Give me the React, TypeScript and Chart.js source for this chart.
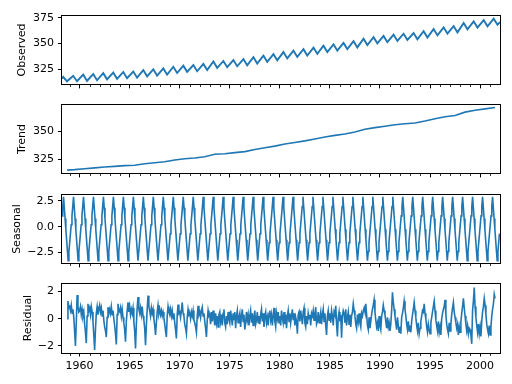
import React, { useEffect, useRef } from "react";
import { Chart, registerables } from "chart.js";

Chart.register(...registerables);

// ---------- data ----------
const X_MIN = 1958.24;
const X_MAX = 2001.99;
const xMajorTicks = [1960, 1965, 1970, 1975, 1980, 1985, 1990, 1995, 2000];
const firstYear = 1958;

// Observed: yearly May peak and Sep/Oct trough values
const observedStart = 316.1;
const observedEnd = 370.8;
const observedPeaks = [
  317.9, 318.9, 320.0, 320.6, 321.4, 322.0, 322.6, 323.0, 324.4, 325.2,
  326.0, 327.6, 328.7, 329.3, 330.4, 332.7, 333.2, 334.1, 335.0, 336.8,
  338.4, 339.8, 341.8, 343.1, 344.5, 346.1, 347.9, 349.3, 350.6, 352.3,
  354.7, 356.2, 357.4, 358.7, 359.5, 360.2, 362.0, 364.0, 365.7, 366.9,
  369.8, 371.5, 372.7, 374.0,
];
const observedTroughs = [
  313.6, 313.7, 314.0, 314.6, 315.5, 316.0, 316.6, 317.1, 318.4, 319.1,
  320.0, 321.6, 322.7, 323.3, 324.4, 326.6, 327.2, 328.1, 329.0, 330.8,
  332.4, 333.8, 335.7, 337.1, 338.4, 340.1, 341.8, 343.3, 344.6, 346.3,
  348.6, 350.2, 351.4, 352.6, 353.5, 354.2, 355.9, 357.9, 359.7, 360.8,
  363.8, 365.5, 366.7, 368.2,
];

// Trend: value at each point in time
const trendX = [
  1958.75, 1959.5, 1960.5, 1961.5, 1962.5, 1963.5, 1964.5, 1965.5, 1966.5, 1967.5,
  1968.5, 1969.5, 1970.5, 1971.5, 1972.5, 1973.5, 1974.5, 1975.5, 1976.5, 1977.5,
  1978.5, 1979.5, 1980.5, 1981.5, 1982.5, 1983.5, 1984.5, 1985.5, 1986.5, 1987.5,
  1988.5, 1989.5, 1990.5, 1991.5, 1992.5, 1993.5, 1994.5, 1995.5, 1996.5, 1997.5,
  1998.5, 1999.5, 2000.5, 2001.5,
];
const trendValues = [
  315.7, 316.1, 316.91, 317.64, 318.45, 318.99, 319.62, 320.04, 321.37, 322.18,
  323.05, 324.62, 325.68, 326.32, 327.46, 329.68, 330.19, 331.12, 332.03, 333.84,
  335.41, 336.84, 338.76, 340.12, 341.48, 343.15, 344.87, 346.35, 347.61, 349.31,
  351.69, 353.2, 354.45, 355.7, 356.54, 357.21, 358.96, 360.97, 362.74, 363.88,
  366.84, 368.54, 369.71, 370.9,
];

// Seasonal: one 52-week period, sampled every 4 weeks (repeats every period)
const seasonalPeriodWeeks = 52;
const seasonalStepWeeks = 4;
const seasonalPattern = [1.05, 1.95, 2.9, 1.85, 0.8, -0.25, -1.26, -2.28, -3.3, -2.42, -1.55, -0.68, 0.19];
const seasonalWeeks = 2284;

// Residual: monthly values from Oct 1958 to Jul 2001
const residualStart = 1958.75;
const residual1958to1972 = [
  0.0, 1.3, 0.8,
  0.9, 0.6, 1.0, 0.4, 0.7, 0.1, -0.9, -2.0, -0.3, 1.75, 0.9, 0.5,
  0.6, 0.9, 0.3, 0.7, 0.2, 0.5, -0.4, -1.0, -1.8, 0.2, 1.1, 0.6,
  0.8, 0.3, 0.9, 0.5, -0.2, -1.2, -2.3, -0.8, 0.4, 0.9, 0.3, 0.7,
  1.0, 0.5, 0.8, 0.2, 0.6, -0.1, -0.6, -0.9, -1.35, 0.1, 0.85, 0.4,
  0.7, 0.4, 0.9, 0.3, 0.6, 0.0, -0.5, -1.1, -1.9, 0.3, 1.1, 0.6,
  0.5, 0.8, 0.2, 0.7, 0.1, -0.3, -0.8, -1.7, -0.2, 0.6, 1.2, 0.5,
  0.9, 0.3, 0.7, 0.4, 0.8, -0.2, -0.9, -2.2, -0.4, 0.8, 1.6, 0.7,
  0.4, 0.8, 0.3, 0.9, 0.2, -0.1, -0.7, -1.95, -0.5, 0.7, 1.7, 0.9,
  0.6, 0.2, 0.8, 0.4, 0.7, 0.0, -0.5, -1.2, -0.3, 0.5, 1.0, 0.4,
  0.7, 0.3, 0.6, 0.2, 0.5, 0.1, -0.4, -0.9, -1.35, 0.2, 0.9, 0.5,
  0.3, 0.7, 0.2, 0.6, 0.0, 0.4, -0.3, -0.8, -1.45, 0.3, 1.05, 0.4,
  0.5, 0.1, 0.6, 1.2, 0.4, 0.2, -0.4, -0.7, -1.1, 0.1, 0.7, 0.3,
  0.4, 0.0, 0.5, 0.2, 0.6, -0.1, -0.3, -0.6, -1.0, 0.2, 0.95, 0.3,
  0.5, 0.1, 0.6, 0.85, 0.2, 0.4, -0.2, -0.7, -1.35, -0.1, 0.6, 0.2,
];
const residual1973to1987 = [
  0.3, -0.4, 0.5, -0.2, 0.6, 0.1, -0.5, 0.4, -0.3, 0.2, -0.6, 0.3,
  0.5, -0.2, 0.3, -0.5, 0.4, 0.7, -0.3, -0.6, 0.2, -0.4, 0.5, 0.0,
  -0.3, 0.6, 0.1, -0.5, 0.4, -0.1, 0.5, -0.7, 0.2, 0.6, -0.3, 0.1,
  0.4, -0.6, 0.2, 0.7, -0.2, 0.3, -0.8, -0.3, 0.5, -0.1, 0.3, -0.5,
  0.2, 0.6, -0.3, 0.4, -0.5, 0.1, 0.6, -0.4, -0.1, 0.5, -0.3, 0.2,
  -0.4, 0.3, 0.7, -0.2, 0.4, -0.6, 0.2, 0.5, -0.3, 0.1, -0.5, 0.4,
  0.6, -0.1, 0.3, -0.5, 0.2, 0.8, -0.2, -0.6, 0.4, 0.0, 0.5, -0.3,
  0.2, -0.5, 0.6, 0.1, -0.3, 0.5, -0.4, 0.3, -0.7, 0.2, 0.6, -0.2,
  0.4, -0.3, 0.2, 0.7, -0.1, 0.4, -0.5, 0.1, -0.2, -1.1, 0.3, 0.5,
  -0.2, 0.6, 0.1, -0.4, 0.5, 0.8, -0.3, -0.6, 0.2, -0.4, 0.4, 0.0,
  0.3, -0.5, 0.4, 0.2, 0.6, -0.1, 0.3, 0.85, -0.4, -0.2, 0.5, -0.3,
  0.1, 0.5, -0.4, 0.3, 0.7, -0.2, 0.4, -0.5, -1.2, 0.2, 0.6, -0.1,
  0.4, -0.3, 0.6, 0.2, -0.5, 0.5, 0.3, 0.95, -0.4, -1.3, 0.1, 0.5,
  -0.2, 0.3, -1.4, 0.2, 0.6, 0.4, -0.3, 0.7, -0.5, 0.1, 0.5, -0.4,
  0.3, -0.6, 0.2, 0.5, 1.1, 0.6, 0.2, -0.4, -0.7, 0.3, -0.2, 0.4,
];
const residual1988to2001 = [
  -0.3, -0.6, 0.4, 0.2, 0.6, 0.8, 0.5, 1.1, 0.3, -0.5, -0.8, 0.1,
  -0.7, -0.2, 0.3, 0.7, 1.0, 1.4, 0.5, -0.1, -0.6, -0.3, -0.9, 0.2,
  -0.5, -0.8, 0.2, 0.5, 1.0, 0.6, 0.3, -0.2, -0.7, 0.1, -0.6, -0.3,
  -0.9, -0.4, 0.6, 1.95, 1.2, 0.7, 0.2, -0.3, -0.8, 0.1, -0.5, -1.0,
  -0.6, -1.1, 0.1, 0.4, 0.8, 1.3, 0.7, 0.2, -0.4, -0.8, -0.2, -0.9,
  -0.5, -1.0, -0.2, 0.3, 0.7, 1.2, 0.6, 0.1, -0.5, -0.9, -0.3, -1.1,
  -0.7, -0.2, 0.2, 0.6, 0.5, 1.1, 0.4, 0.0, -0.6, -1.0, -0.4, -0.8,
  -1.1, -0.3, 0.1, 0.5, 0.9, 1.3, 0.6, -0.1, -0.5, -0.9, -0.2, -1.0,
  -0.6, -1.2, 0.0, 0.4, 0.7, 0.9, 1.4, 0.3, -0.4, -0.8, -1.1, -0.3,
  -0.9, -0.4, 0.3, 0.8, 1.2, 0.5, 0.1, -0.3, -0.7, -0.4, -1.2, -0.6,
  -1.0, -0.2, 0.4, 0.9, 1.5, 0.8, 0.2, -0.4, -0.9, -0.5, -1.1, -0.7,
  -0.8, -1.2, -1.85, 0.6, 1.3, 2.3, 0.9, 0.1, -0.5, -1.0, -0.4, -1.1,
  -0.6, -1.3, -0.2, 0.5, 0.9, 1.5, 1.0, 0.3, -0.4, -0.8, -1.1, -0.5,
  -1.2, -0.6, 0.2, 0.7, 1.1, 1.8, 1.5,
];

// Axis tick values
const observedTicks = [325, 350, 375];
const trendTicks = [325, 350];
const seasonalTicks = [-2.5, 0, 2.5];
const residualTicks = [-2, 0, 2];

// ---------- build point lists ----------
type Pt = { x: number; y: number };

function observedPoints(): Pt[] {
  const pts: Pt[] = [{ x: X_MIN, y: observedStart }];
  observedPeaks.forEach((p, i) => {
    const yr = firstYear + i;
    pts.push({ x: yr + 0.36, y: p });
    pts.push({ x: yr + 0.74, y: observedTroughs[i] });
  });
  pts.push({ x: X_MAX, y: observedEnd });
  return pts;
}
function trendPoints(): Pt[] {
  return trendValues.map((v, i) => ({ x: trendX[i], y: v }));
}
function seasonalPoints(): Pt[] {
  const pts: Pt[] = [];
  const wk = 7 / 365.25;
  for (let k = 0; k < seasonalWeeks; k += seasonalStepWeeks) {
    const idx = (k % seasonalPeriodWeeks) / seasonalStepWeeks;
    pts.push({ x: X_MIN + k * wk, y: seasonalPattern[idx] });
  }
  return pts;
}
function residualPoints(): Pt[] {
  const all = [...residual1958to1972, ...residual1973to1987, ...residual1988to2001];
  return all.map((v, i) => ({ x: residualStart + i / 12, y: v }));
}

const FONT = "'DejaVu Sans', sans-serif";
const FS = 11;
const LINE = "#1f77b4";

const fmtInt = (v: number) => (v < 0 ? "\u2212" : "") + Math.abs(v).toFixed(0);
const fmt1 = (v: number) => (v < 0 ? "\u2212" : "") + Math.abs(v).toFixed(1);

const framePlugin = {
  id: "frame",
  afterDraw(chart: any) {
    const { ctx, chartArea: a, scales } = chart;
    ctx.save();
    ctx.strokeStyle = "#000";
    ctx.lineWidth = 1;
    const l = Math.round(a.left) - 0.5;
    const t = Math.round(a.top) - 0.5;
    const r = Math.round(a.right) + 0.5;
    const b = Math.round(a.bottom) + 0.5;
    ctx.strokeRect(l, t, r - l, b - t);
    // minor year ticks
    ctx.lineWidth = 0.8;
    for (let yr = 1959; yr <= 2001; yr++) {
      if (xMajorTicks.includes(yr)) continue;
      const px = Math.round(scales.x.getPixelForValue(yr)) + 0.5;
      ctx.beginPath();
      ctx.moveTo(px, b);
      ctx.lineTo(px, b + 2.5);
      ctx.stroke();
    }
    ctx.restore();
  },
};

type Cfg = {
  title: string;
  points: Pt[];
  yMin: number;
  yMax: number;
  yTicks: number[];
  fmt: (v: number) => string;
  top: number;
  h: number;
  xh: number;
  titlePad: number;
  showX: boolean;
  lw: number;
};

function Panel({ cfg }: { cfg: Cfg }) {
  const ref = useRef<HTMLCanvasElement>(null);
  useEffect(() => {
    const chart = new Chart(ref.current as HTMLCanvasElement, {
      type: "line",
      data: {
        datasets: [
          {
            data: cfg.points as any,
            borderColor: LINE,
            borderWidth: cfg.lw,
            pointRadius: 0,
            tension: 0,
            fill: false,
          },
        ],
      },
      options: {
        animation: false,
        responsive: false,
        devicePixelRatio: 1,
        parsing: false,
        normalized: true,
        events: [],
        layout: { padding: { left: 0, right: 12, top: 10, bottom: 0 } },
        plugins: { legend: { display: false }, tooltip: { enabled: false } },
        scales: {
          x: {
            type: "linear",
            min: X_MIN,
            max: X_MAX,
            position: "bottom",
            afterBuildTicks: (s: any) => {
              s.ticks = xMajorTicks.map((v) => ({ value: v }));
            },
            afterFit: (s: any) => {
              s.height = cfg.xh;
            },
            grid: { drawOnChartArea: false, drawTicks: true, tickLength: 4, color: "#000", lineWidth: 1 },
            border: { display: false },
            ticks: {
              display: cfg.showX,
              color: "#000",
              font: { family: FONT, size: FS },
              padding: 3,
              maxRotation: 0,
              autoSkip: false,
              callback: (v: any) => String(v),
            },
          },
          y: {
            type: "linear",
            min: cfg.yMin,
            max: cfg.yMax,
            afterBuildTicks: (s: any) => {
              s.ticks = cfg.yTicks.map((v) => ({ value: v }));
            },
            afterFit: (s: any) => {
              s.width = 62;
            },
            grid: { drawOnChartArea: false, drawTicks: true, tickLength: 4, color: "#000", lineWidth: 1 },
            border: { display: false },
            ticks: {
              color: "#000",
              font: { family: FONT, size: FS },
              padding: 4,
              callback: (v: any) => cfg.fmt(Number(v)),
            },
            title: {
              display: true,
              text: cfg.title,
              color: "#000",
              font: { family: FONT, size: FS },
              padding: { top: cfg.titlePad, bottom: 0 },
            },
          },
        },
      },
      plugins: [framePlugin],
    });
    return () => chart.destroy();
  }, []);
  return (
    <canvas
      ref={ref}
      width={512}
      height={cfg.h}
      style={{ position: "absolute", left: 0, top: cfg.top, width: 512, height: cfg.h }}
    />
  );
}

export default function App() {
  const panels: Cfg[] = [
    { title: "Observed", points: observedPoints(), yMin: 310.6, yMax: 377.0, yTicks: observedTicks, fmt: fmtInt, top: 5, h: 90, xh: 10.5, titlePad: 16, showX: false, lw: 1.9 },
    { title: "Trend", points: trendPoints(), yMin: 312.8, yMax: 373.5, yTicks: trendTicks, fmt: fmtInt, top: 94, h: 90, xh: 10.5, titlePad: 16, showX: false, lw: 1.6 },
    { title: "Seasonal", points: seasonalPoints(), yMin: -3.57, yMax: 3.12, yTicks: seasonalTicks, fmt: fmt1, top: 184, h: 90, xh: 10.5, titlePad: 11, showX: false, lw: 1.6 },
    { title: "Residual", points: residualPoints(), yMin: -2.49, yMax: 2.59, yTicks: residualTicks, fmt: fmtInt, top: 273, h: 111, xh: 31.5, titlePad: 22, showX: true, lw: 1.6 },
  ];
  return (
    <div style={{ position: "absolute", left: 0, top: 0, width: 512, height: 384, background: "#fff" }}>
      {panels.map((p) => (
        <Panel key={p.title} cfg={p} />
      ))}
    </div>
  );
}
